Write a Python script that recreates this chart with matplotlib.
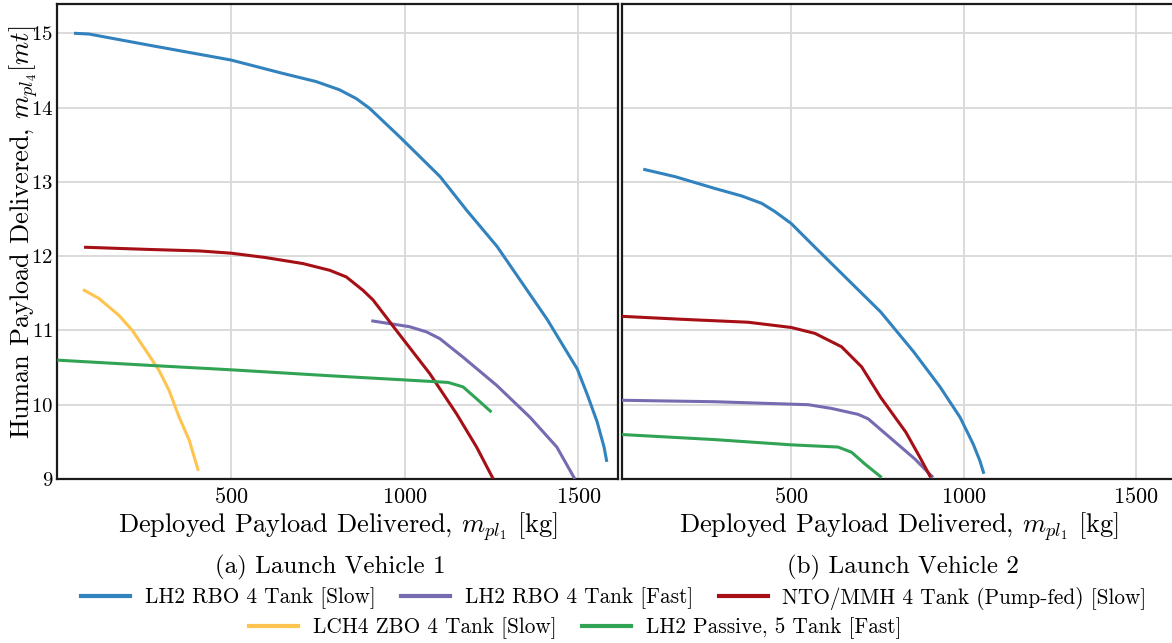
import matplotlib
matplotlib.use("Agg")
import matplotlib.pyplot as plt
from matplotlib.lines import Line2D

plt.rcParams["font.family"] = "cmr10"
plt.rcParams["mathtext.fontset"] = "cm"
plt.rcParams["axes.formatter.use_mathtext"] = True

# Pareto fronts, launch vehicle 1 (deployed payload [kg], human payload [mt])
lv1_lh2_slow_x = [48, 91, 264, 500, 649, 745, 812, 861, 899, 987, 1102, 1178, 1266, 1410, 1497, 1527, 1554, 1574, 1582]
lv1_lh2_slow_y = [15.0, 14.99, 14.84, 14.64, 14.46, 14.35, 14.24, 14.12, 13.99, 13.60, 13.07, 12.62, 12.13, 11.15, 10.48, 10.12, 9.77, 9.43, 9.23]

lv1_lh2_fast_x = [904, 1014, 1063, 1101, 1168, 1265, 1361, 1438, 1490]
lv1_lh2_fast_y = [11.13, 11.05, 10.98, 10.89, 10.64, 10.26, 9.83, 9.43, 9.0]

lv1_nto_x = [77, 264, 409, 500, 601, 707, 784, 832, 880, 909, 976, 1072, 1149, 1207, 1255]
lv1_nto_y = [12.12, 12.09, 12.07, 12.04, 11.98, 11.90, 11.81, 11.72, 11.54, 11.41, 11.00, 10.42, 9.88, 9.43, 9.0]

lv1_lch4_x = [74, 120, 178, 216, 255, 293, 322, 351, 380, 406]
lv1_lch4_y = [11.55, 11.43, 11.20, 11.00, 10.73, 10.46, 10.19, 9.83, 9.52, 9.11]

lv1_passive_x = [0, 264, 500, 784, 976, 1125, 1168, 1207, 1250]
lv1_passive_y = [10.60, 10.53, 10.47, 10.39, 10.34, 10.30, 10.24, 10.08, 9.90]

# Pareto fronts, launch vehicle 2
lv2_lh2_slow_x = [73, 165, 194, 281, 358, 416, 454, 501, 570, 666, 760, 856, 932, 990, 1028, 1047, 1059]
lv2_lh2_slow_y = [13.17, 13.07, 13.03, 12.91, 12.81, 12.71, 12.60, 12.44, 12.12, 11.68, 11.25, 10.71, 10.24, 9.83, 9.47, 9.25, 9.07]

lv2_lh2_fast_x = [10, 281, 551, 618, 695, 724, 859, 912]
lv2_lh2_fast_y = [10.06, 10.04, 10.00, 9.95, 9.87, 9.81, 9.27, 9.02]

lv2_nto_x = [10, 184, 377, 501, 570, 647, 705, 760, 833, 874, 905]
lv2_nto_y = [11.19, 11.15, 11.11, 11.04, 10.96, 10.78, 10.51, 10.10, 9.63, 9.29, 9.02]

lv2_passive_x = [6, 281, 501, 637, 676, 715, 763]
lv2_passive_y = [9.60, 9.53, 9.46, 9.43, 9.36, 9.20, 9.02]

labels = ["LH2 RBO 4 Tank [Slow]", "LH2 RBO 4 Tank [Fast]",
          "NTO/MMH 4 Tank (Pump-fed) [Slow]", "LCH4 ZBO 4 Tank [Slow]",
          "LH2 Passive, 5 Tank [Fast]"]
colors = ["#3182bd", "#756bb1", "#a50f15", "#fec44f", "#31a354"]

W, H = 1172, 643
fig = plt.figure(figsize=(W / 100, H / 100), dpi=100)


def px_axes(x0, x1, y0, y1):
    return fig.add_axes([x0 / W, 1 - y1 / H, (x1 - x0) / W, (y1 - y0) / H])


ax1 = px_axes(57.3, 618.3, 4.3, 479)
ax2 = px_axes(621.5, 1176, 4.3, 479)

series1 = [(lv1_lh2_slow_x, lv1_lh2_slow_y), (lv1_lh2_fast_x, lv1_lh2_fast_y),
           (lv1_nto_x, lv1_nto_y), (lv1_lch4_x, lv1_lch4_y),
           (lv1_passive_x, lv1_passive_y)]
series2 = [(lv2_lh2_slow_x, lv2_lh2_slow_y), (lv2_lh2_fast_x, lv2_lh2_fast_y),
           (lv2_nto_x, lv2_nto_y), None, (lv2_passive_x, lv2_passive_y)]

for ax, series, xmin in [(ax1, series1, 0), (ax2, series2, 10)]:
    for s, c in zip(series, colors):
        if s is None:
            continue
        ax.plot(s[0], s[1], color=c, lw=2.2, solid_capstyle="butt",
                solid_joinstyle="round", zorder=3)
    ax.set_xlim(xmin, 1615)
    ax.set_ylim(9, 15.39)
    ax.set_xticks([500, 1000, 1500])
    ax.set_yticks(range(9, 16))
    ax.grid(True, color="#dadada", lw=1.4)
    ax.set_axisbelow(True)
    ax.tick_params(length=0, labelsize=16, pad=6)
    ax.tick_params(axis="y", labelsize=15, pad=3)
    for sp in ax.spines.values():
        sp.set_color("#1a1a1a")
        sp.set_linewidth(1.6)
    ax.set_xlabel(r"Deployed Payload Delivered, $m_{pl_1}$ [kg]", fontsize=19, labelpad=2)

ax2.tick_params(axis="y", labelleft=False)
ax1.set_ylabel(r"Human Payload Delivered, $m_{pl_4}[mt]$", fontsize=19)
ax1.yaxis.set_label_coords(-0.031, 0.52)

fig.text(330 / W, 1 - 567 / H, "(a) Launch Vehicle 1", fontsize=18, ha="center", va="center")
fig.text(903 / W, 1 - 567 / H, "(b) Launch Vehicle 2", fontsize=18, ha="center", va="center")

handles = [Line2D([], [], color=c, lw=3) for c in colors]
leg_kw = dict(frameon=False, fontsize=15.3, handlelength=2.3, handletextpad=0.7,
              columnspacing=1.2, borderpad=0, borderaxespad=0)
fig.legend(handles[:3], labels[:3], ncol=3, loc="center",
           bbox_to_anchor=(614 / W, 1 - 598 / H), **leg_kw)
fig.legend(handles[3:], labels[3:], ncol=2, loc="center",
           bbox_to_anchor=(575 / W, 1 - 628 / H), **leg_kw)

fig.savefig("out.png", dpi=100)
